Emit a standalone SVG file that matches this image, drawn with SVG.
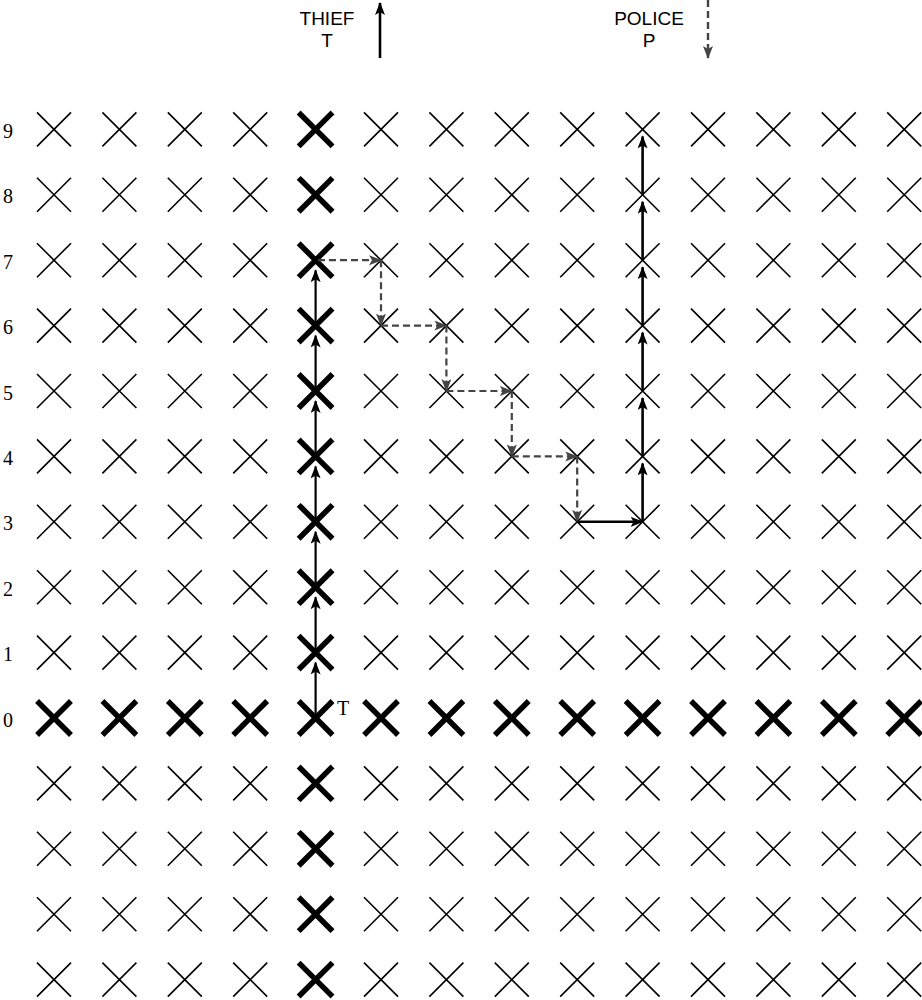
<svg xmlns="http://www.w3.org/2000/svg" xmlns:xlink="http://www.w3.org/1999/xlink" width="922" height="1000" viewBox="0 0 922 1000">
<style>
.thin{fill:none;stroke:#000;stroke-width:1.6}
.thick{fill:none;stroke:#000;stroke-width:5.5;stroke-linecap:square}
.num{font-family:"Liberation Serif",serif;font-size:20px;fill:#000}
.hdr{font-family:"Liberation Sans",Arial,sans-serif;font-size:19px;fill:#000;text-anchor:middle}
.sol{fill:none;stroke:#000;stroke-width:2.2}
.leg{fill:none;stroke:#000;stroke-width:2.6}
.pol{fill:none;stroke:#000;stroke-width:2.6}
.dash{fill:none;stroke:#444;stroke-width:2.2;stroke-dasharray:7,4}
.dleg{fill:none;stroke:#444;stroke-width:2.4;stroke-dasharray:7,4}
</style>
<defs>
<path id="xn" class="thin" d="M-17,-17L17,17M17,-17L-17,17"/>
<path id="xk" class="thick" d="M-15,-15L15,15M15,-15L-15,15"/>
<marker id="ab" markerUnits="userSpaceOnUse" markerWidth="15" markerHeight="12" refX="12" refY="5" orient="auto" viewBox="0 0 15 12">
<path d="M0,0L13,5L0,10L3,5z" fill="#000"/>
</marker>
<marker id="ag" markerUnits="userSpaceOnUse" markerWidth="15" markerHeight="12" refX="12" refY="5" orient="auto" viewBox="0 0 15 12">
<path d="M0,0L13,5L0,10L3,5z" fill="#444"/>
</marker>
</defs>
<rect width="922" height="1000" fill="#fff"/>
<g id="legend">
<text class="hdr" x="327" y="25">THIEF</text>
<text class="hdr" x="327" y="47">T</text>
<line class="leg" x1="380" y1="58" x2="380" y2="3" marker-end="url(#ab)"/>
<text class="hdr" x="649" y="25">POLICE</text>
<text class="hdr" x="649" y="47">P</text>
<line class="dleg" x1="708" y1="0" x2="708" y2="58" marker-end="url(#ag)"/>
</g>
<g id="row-labels">
<text class="num" x="3" y="138">9</text>
<text class="num" x="3" y="203">8</text>
<text class="num" x="3" y="269">7</text>
<text class="num" x="3" y="334">6</text>
<text class="num" x="3" y="400">5</text>
<text class="num" x="3" y="465">4</text>
<text class="num" x="3" y="530">3</text>
<text class="num" x="3" y="596">2</text>
<text class="num" x="3" y="661">1</text>
<text class="num" x="3" y="727">0</text>
</g>
<g id="grid">
<g id="r9"><use id="n0_9" href="#xn" x="54" y="129.4"/><use id="n1_9" href="#xn" x="119.4" y="129.4"/><use id="n2_9" href="#xn" x="184.8" y="129.4"/><use id="n3_9" href="#xn" x="250.2" y="129.4"/><use id="n4_9" href="#xk" x="315.6" y="129.4"/><use id="n5_9" href="#xn" x="381" y="129.4"/><use id="n6_9" href="#xn" x="446.4" y="129.4"/><use id="n7_9" href="#xn" x="511.8" y="129.4"/><use id="n8_9" href="#xn" x="577.2" y="129.4"/><use id="n9_9" href="#xn" x="642.6" y="129.4"/><use id="n10_9" href="#xn" x="708" y="129.4"/><use id="n11_9" href="#xn" x="773.4" y="129.4"/><use id="n12_9" href="#xn" x="838.8" y="129.4"/><use id="n13_9" href="#xn" x="904.2" y="129.4"/></g>
<g id="r8"><use id="n0_8" href="#xn" x="54" y="194.8"/><use id="n1_8" href="#xn" x="119.4" y="194.8"/><use id="n2_8" href="#xn" x="184.8" y="194.8"/><use id="n3_8" href="#xn" x="250.2" y="194.8"/><use id="n4_8" href="#xk" x="315.6" y="194.8"/><use id="n5_8" href="#xn" x="381" y="194.8"/><use id="n6_8" href="#xn" x="446.4" y="194.8"/><use id="n7_8" href="#xn" x="511.8" y="194.8"/><use id="n8_8" href="#xn" x="577.2" y="194.8"/><use id="n9_8" href="#xn" x="642.6" y="194.8"/><use id="n10_8" href="#xn" x="708" y="194.8"/><use id="n11_8" href="#xn" x="773.4" y="194.8"/><use id="n12_8" href="#xn" x="838.8" y="194.8"/><use id="n13_8" href="#xn" x="904.2" y="194.8"/></g>
<g id="r7"><use id="n0_7" href="#xn" x="54" y="260.2"/><use id="n1_7" href="#xn" x="119.4" y="260.2"/><use id="n2_7" href="#xn" x="184.8" y="260.2"/><use id="n3_7" href="#xn" x="250.2" y="260.2"/><use id="n4_7" href="#xk" x="315.6" y="260.2"/><use id="n5_7" href="#xn" x="381" y="260.2"/><use id="n6_7" href="#xn" x="446.4" y="260.2"/><use id="n7_7" href="#xn" x="511.8" y="260.2"/><use id="n8_7" href="#xn" x="577.2" y="260.2"/><use id="n9_7" href="#xn" x="642.6" y="260.2"/><use id="n10_7" href="#xn" x="708" y="260.2"/><use id="n11_7" href="#xn" x="773.4" y="260.2"/><use id="n12_7" href="#xn" x="838.8" y="260.2"/><use id="n13_7" href="#xn" x="904.2" y="260.2"/></g>
<g id="r6"><use id="n0_6" href="#xn" x="54" y="325.6"/><use id="n1_6" href="#xn" x="119.4" y="325.6"/><use id="n2_6" href="#xn" x="184.8" y="325.6"/><use id="n3_6" href="#xn" x="250.2" y="325.6"/><use id="n4_6" href="#xk" x="315.6" y="325.6"/><use id="n5_6" href="#xn" x="381" y="325.6"/><use id="n6_6" href="#xn" x="446.4" y="325.6"/><use id="n7_6" href="#xn" x="511.8" y="325.6"/><use id="n8_6" href="#xn" x="577.2" y="325.6"/><use id="n9_6" href="#xn" x="642.6" y="325.6"/><use id="n10_6" href="#xn" x="708" y="325.6"/><use id="n11_6" href="#xn" x="773.4" y="325.6"/><use id="n12_6" href="#xn" x="838.8" y="325.6"/><use id="n13_6" href="#xn" x="904.2" y="325.6"/></g>
<g id="r5"><use id="n0_5" href="#xn" x="54" y="391"/><use id="n1_5" href="#xn" x="119.4" y="391"/><use id="n2_5" href="#xn" x="184.8" y="391"/><use id="n3_5" href="#xn" x="250.2" y="391"/><use id="n4_5" href="#xk" x="315.6" y="391"/><use id="n5_5" href="#xn" x="381" y="391"/><use id="n6_5" href="#xn" x="446.4" y="391"/><use id="n7_5" href="#xn" x="511.8" y="391"/><use id="n8_5" href="#xn" x="577.2" y="391"/><use id="n9_5" href="#xn" x="642.6" y="391"/><use id="n10_5" href="#xn" x="708" y="391"/><use id="n11_5" href="#xn" x="773.4" y="391"/><use id="n12_5" href="#xn" x="838.8" y="391"/><use id="n13_5" href="#xn" x="904.2" y="391"/></g>
<g id="r4"><use id="n0_4" href="#xn" x="54" y="456.4"/><use id="n1_4" href="#xn" x="119.4" y="456.4"/><use id="n2_4" href="#xn" x="184.8" y="456.4"/><use id="n3_4" href="#xn" x="250.2" y="456.4"/><use id="n4_4" href="#xk" x="315.6" y="456.4"/><use id="n5_4" href="#xn" x="381" y="456.4"/><use id="n6_4" href="#xn" x="446.4" y="456.4"/><use id="n7_4" href="#xn" x="511.8" y="456.4"/><use id="n8_4" href="#xn" x="577.2" y="456.4"/><use id="n9_4" href="#xn" x="642.6" y="456.4"/><use id="n10_4" href="#xn" x="708" y="456.4"/><use id="n11_4" href="#xn" x="773.4" y="456.4"/><use id="n12_4" href="#xn" x="838.8" y="456.4"/><use id="n13_4" href="#xn" x="904.2" y="456.4"/></g>
<g id="r3"><use id="n0_3" href="#xn" x="54" y="521.8"/><use id="n1_3" href="#xn" x="119.4" y="521.8"/><use id="n2_3" href="#xn" x="184.8" y="521.8"/><use id="n3_3" href="#xn" x="250.2" y="521.8"/><use id="n4_3" href="#xk" x="315.6" y="521.8"/><use id="n5_3" href="#xn" x="381" y="521.8"/><use id="n6_3" href="#xn" x="446.4" y="521.8"/><use id="n7_3" href="#xn" x="511.8" y="521.8"/><use id="n8_3" href="#xn" x="577.2" y="521.8"/><use id="n9_3" href="#xn" x="642.6" y="521.8"/><use id="n10_3" href="#xn" x="708" y="521.8"/><use id="n11_3" href="#xn" x="773.4" y="521.8"/><use id="n12_3" href="#xn" x="838.8" y="521.8"/><use id="n13_3" href="#xn" x="904.2" y="521.8"/></g>
<g id="r2"><use id="n0_2" href="#xn" x="54" y="587.2"/><use id="n1_2" href="#xn" x="119.4" y="587.2"/><use id="n2_2" href="#xn" x="184.8" y="587.2"/><use id="n3_2" href="#xn" x="250.2" y="587.2"/><use id="n4_2" href="#xk" x="315.6" y="587.2"/><use id="n5_2" href="#xn" x="381" y="587.2"/><use id="n6_2" href="#xn" x="446.4" y="587.2"/><use id="n7_2" href="#xn" x="511.8" y="587.2"/><use id="n8_2" href="#xn" x="577.2" y="587.2"/><use id="n9_2" href="#xn" x="642.6" y="587.2"/><use id="n10_2" href="#xn" x="708" y="587.2"/><use id="n11_2" href="#xn" x="773.4" y="587.2"/><use id="n12_2" href="#xn" x="838.8" y="587.2"/><use id="n13_2" href="#xn" x="904.2" y="587.2"/></g>
<g id="r1"><use id="n0_1" href="#xn" x="54" y="652.6"/><use id="n1_1" href="#xn" x="119.4" y="652.6"/><use id="n2_1" href="#xn" x="184.8" y="652.6"/><use id="n3_1" href="#xn" x="250.2" y="652.6"/><use id="n4_1" href="#xk" x="315.6" y="652.6"/><use id="n5_1" href="#xn" x="381" y="652.6"/><use id="n6_1" href="#xn" x="446.4" y="652.6"/><use id="n7_1" href="#xn" x="511.8" y="652.6"/><use id="n8_1" href="#xn" x="577.2" y="652.6"/><use id="n9_1" href="#xn" x="642.6" y="652.6"/><use id="n10_1" href="#xn" x="708" y="652.6"/><use id="n11_1" href="#xn" x="773.4" y="652.6"/><use id="n12_1" href="#xn" x="838.8" y="652.6"/><use id="n13_1" href="#xn" x="904.2" y="652.6"/></g>
<g id="r0"><use id="n0_0" href="#xk" x="54" y="718"/><use id="n1_0" href="#xk" x="119.4" y="718"/><use id="n2_0" href="#xk" x="184.8" y="718"/><use id="n3_0" href="#xk" x="250.2" y="718"/><use id="n4_0" href="#xk" x="315.6" y="718"/><use id="n5_0" href="#xk" x="381" y="718"/><use id="n6_0" href="#xk" x="446.4" y="718"/><use id="n7_0" href="#xk" x="511.8" y="718"/><use id="n8_0" href="#xk" x="577.2" y="718"/><use id="n9_0" href="#xk" x="642.6" y="718"/><use id="n10_0" href="#xk" x="708" y="718"/><use id="n11_0" href="#xk" x="773.4" y="718"/><use id="n12_0" href="#xk" x="838.8" y="718"/><use id="n13_0" href="#xk" x="904.2" y="718"/></g>
<g id="rm1"><use id="n0_m1" href="#xn" x="54" y="783.4"/><use id="n1_m1" href="#xn" x="119.4" y="783.4"/><use id="n2_m1" href="#xn" x="184.8" y="783.4"/><use id="n3_m1" href="#xn" x="250.2" y="783.4"/><use id="n4_m1" href="#xk" x="315.6" y="783.4"/><use id="n5_m1" href="#xn" x="381" y="783.4"/><use id="n6_m1" href="#xn" x="446.4" y="783.4"/><use id="n7_m1" href="#xn" x="511.8" y="783.4"/><use id="n8_m1" href="#xn" x="577.2" y="783.4"/><use id="n9_m1" href="#xn" x="642.6" y="783.4"/><use id="n10_m1" href="#xn" x="708" y="783.4"/><use id="n11_m1" href="#xn" x="773.4" y="783.4"/><use id="n12_m1" href="#xn" x="838.8" y="783.4"/><use id="n13_m1" href="#xn" x="904.2" y="783.4"/></g>
<g id="rm2"><use id="n0_m2" href="#xn" x="54" y="848.8"/><use id="n1_m2" href="#xn" x="119.4" y="848.8"/><use id="n2_m2" href="#xn" x="184.8" y="848.8"/><use id="n3_m2" href="#xn" x="250.2" y="848.8"/><use id="n4_m2" href="#xk" x="315.6" y="848.8"/><use id="n5_m2" href="#xn" x="381" y="848.8"/><use id="n6_m2" href="#xn" x="446.4" y="848.8"/><use id="n7_m2" href="#xn" x="511.8" y="848.8"/><use id="n8_m2" href="#xn" x="577.2" y="848.8"/><use id="n9_m2" href="#xn" x="642.6" y="848.8"/><use id="n10_m2" href="#xn" x="708" y="848.8"/><use id="n11_m2" href="#xn" x="773.4" y="848.8"/><use id="n12_m2" href="#xn" x="838.8" y="848.8"/><use id="n13_m2" href="#xn" x="904.2" y="848.8"/></g>
<g id="rm3"><use id="n0_m3" href="#xn" x="54" y="914.2"/><use id="n1_m3" href="#xn" x="119.4" y="914.2"/><use id="n2_m3" href="#xn" x="184.8" y="914.2"/><use id="n3_m3" href="#xn" x="250.2" y="914.2"/><use id="n4_m3" href="#xk" x="315.6" y="914.2"/><use id="n5_m3" href="#xn" x="381" y="914.2"/><use id="n6_m3" href="#xn" x="446.4" y="914.2"/><use id="n7_m3" href="#xn" x="511.8" y="914.2"/><use id="n8_m3" href="#xn" x="577.2" y="914.2"/><use id="n9_m3" href="#xn" x="642.6" y="914.2"/><use id="n10_m3" href="#xn" x="708" y="914.2"/><use id="n11_m3" href="#xn" x="773.4" y="914.2"/><use id="n12_m3" href="#xn" x="838.8" y="914.2"/><use id="n13_m3" href="#xn" x="904.2" y="914.2"/></g>
<g id="rm4"><use id="n0_m4" href="#xn" x="54" y="979.6"/><use id="n1_m4" href="#xn" x="119.4" y="979.6"/><use id="n2_m4" href="#xn" x="184.8" y="979.6"/><use id="n3_m4" href="#xn" x="250.2" y="979.6"/><use id="n4_m4" href="#xk" x="315.6" y="979.6"/><use id="n5_m4" href="#xn" x="381" y="979.6"/><use id="n6_m4" href="#xn" x="446.4" y="979.6"/><use id="n7_m4" href="#xn" x="511.8" y="979.6"/><use id="n8_m4" href="#xn" x="577.2" y="979.6"/><use id="n9_m4" href="#xn" x="642.6" y="979.6"/><use id="n10_m4" href="#xn" x="708" y="979.6"/><use id="n11_m4" href="#xn" x="773.4" y="979.6"/><use id="n12_m4" href="#xn" x="838.8" y="979.6"/><use id="n13_m4" href="#xn" x="904.2" y="979.6"/></g>
</g>
<g id="origin-label"><text class="num" x="337" y="715">T</text></g>
<g id="connectors">
<g id="thief-path">
<line class="sol" x1="315.6" y1="718" x2="315.6" y2="662.6" marker-end="url(#ab)"/>
<line class="sol" x1="315.6" y1="652.6" x2="315.6" y2="597.2" marker-end="url(#ab)"/>
<line class="sol" x1="315.6" y1="587.2" x2="315.6" y2="531.8" marker-end="url(#ab)"/>
<line class="sol" x1="315.6" y1="521.8" x2="315.6" y2="466.4" marker-end="url(#ab)"/>
<line class="sol" x1="315.6" y1="456.4" x2="315.6" y2="401" marker-end="url(#ab)"/>
<line class="sol" x1="315.6" y1="391" x2="315.6" y2="335.6" marker-end="url(#ab)"/>
<line class="sol" x1="315.6" y1="325.6" x2="315.6" y2="270.2" marker-end="url(#ab)"/>
</g>
<g id="dashed-path">
<line class="dash" x1="318" y1="260.2" x2="381" y2="260.2" marker-end="url(#ag)"/>
<line class="dash" x1="381" y1="260.2" x2="381" y2="325.6" marker-end="url(#ag)"/>
<line class="dash" x1="381" y1="325.6" x2="446.4" y2="325.6" marker-end="url(#ag)"/>
<line class="dash" x1="446.4" y1="325.6" x2="446.4" y2="391" marker-end="url(#ag)"/>
<line class="dash" x1="446.4" y1="391" x2="511.8" y2="391" marker-end="url(#ag)"/>
<line class="dash" x1="511.8" y1="391" x2="511.8" y2="456.4" marker-end="url(#ag)"/>
<line class="dash" x1="511.8" y1="456.4" x2="577.2" y2="456.4" marker-end="url(#ag)"/>
<line class="dash" x1="577.2" y1="456.4" x2="577.2" y2="521.8" marker-end="url(#ag)"/>
</g>
<g id="solid-path">
<line class="pol" x1="577.2" y1="521.8" x2="642.6" y2="521.8" marker-end="url(#ab)"/>
<line class="pol" x1="642.6" y1="521.8" x2="642.6" y2="463.4" marker-end="url(#ab)"/>
<line class="pol" x1="642.6" y1="456.4" x2="642.6" y2="398" marker-end="url(#ab)"/>
<line class="pol" x1="642.6" y1="391" x2="642.6" y2="332.6" marker-end="url(#ab)"/>
<line class="pol" x1="642.6" y1="325.6" x2="642.6" y2="267.2" marker-end="url(#ab)"/>
<line class="pol" x1="642.6" y1="260.2" x2="642.6" y2="201.8" marker-end="url(#ab)"/>
<line class="pol" x1="642.6" y1="194.8" x2="642.6" y2="136.4" marker-end="url(#ab)"/>
</g>
</g>
</svg>
